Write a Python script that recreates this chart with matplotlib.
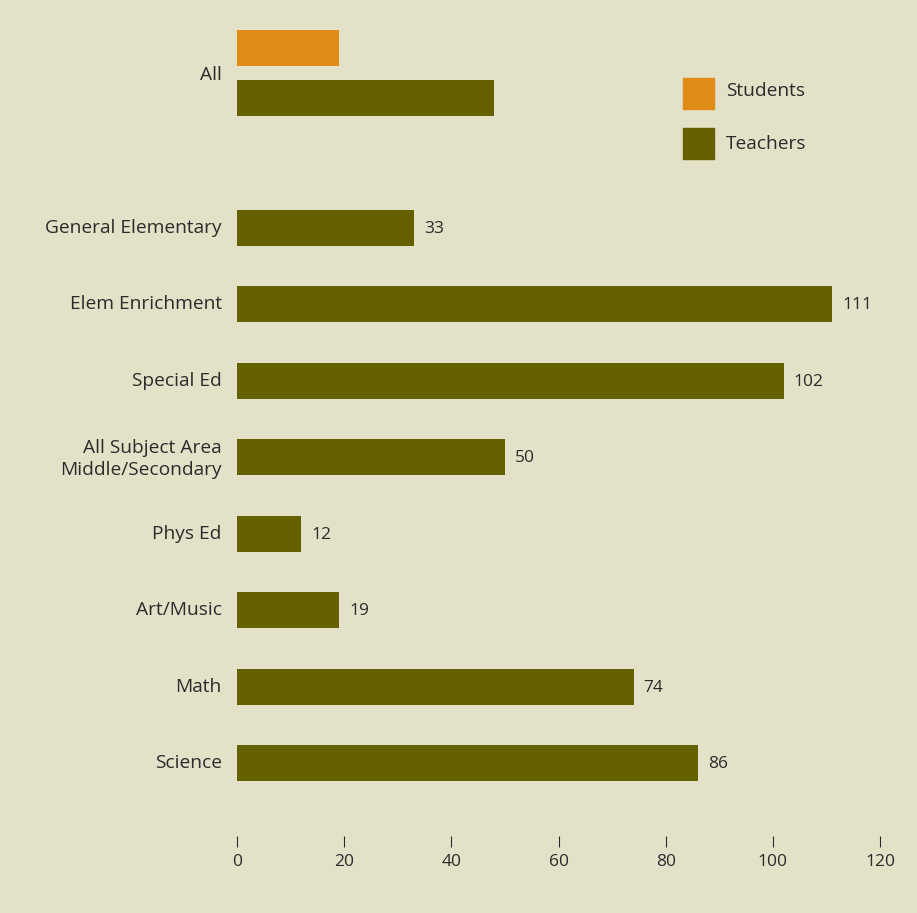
import matplotlib.pyplot as plt
from matplotlib.patches import Rectangle
import numpy as np

plt.rcParams['font.family'] = ['Open Sans', 'DejaVu Sans']

categories = ['General Elementary', 'Elem Enrichment', 'Special Ed',
              'All Subject Area\nMiddle/Secondary', 'Phys Ed', 'Art/Music',
              'Math', 'Science']
teachers = [33, 111, 102, 50, 12, 19, 74, 86]
all_students = 19
all_teachers = 48
xticks = [0, 20, 40, 60, 80, 100, 120]
legend_labels = ['Students', 'Teachers']

bg = '#e3e1c8'
olive = '#666100'
orange = '#e08a18'
txt = '#2b2b2b'

W, H = 917, 913
fig = plt.figure(figsize=(W / 100, H / 100), dpi=100, facecolor=bg)
ax = fig.add_axes([237 / W, 1 - 836 / H, 643 / W, 826 / H])
ax.set_facecolor(bg)

h = 0.47
y = np.arange(len(categories))
ax.barh(y, teachers, height=h, color=olive)
ax.barh(-2.35, all_students, height=h, color=orange)
ax.barh(-1.7, all_teachers, height=h, color=olive)

for yi, v in zip(y, teachers):
    ax.text(v + 1.9, yi + 0.01, str(v), va='center', ha='left',
            fontsize=12.5, color=txt)

ax.set_xlim(0, 120)
ax.set_ylim(7.95, -2.85)
ax.set_yticks([-2.025] + list(y - 0.03))
ax.set_yticklabels(['All'] + categories, fontsize=13.8, color=txt, linespacing=1.3)
ax.set_xticks(xticks)
ax.set_xticklabels([str(t) for t in xticks], fontsize=12.5, color=txt)
ax.tick_params(axis='y', length=0, pad=11)
ax.tick_params(axis='x', direction='out', length=8, width=0.8,
               color=txt, pad=5)
for s in ax.spines.values():
    s.set_visible(False)

# legend drawn by hand: square boxes with labels
for i, (lab, col) in enumerate(zip(legend_labels, [orange, olive])):
    top = 78 + 50 * i
    fig.add_artist(Rectangle((683 / W, 1 - (top + 31) / H), 31 / W, 31 / H,
                             transform=fig.transFigure, color=col))
    fig.text(726 / W, 1 - (top + 13 + 3 * i) / H, lab, va='center', ha='left',
             fontsize=13.8, color=txt)

fig.savefig('out.png', dpi=100, facecolor=bg)
